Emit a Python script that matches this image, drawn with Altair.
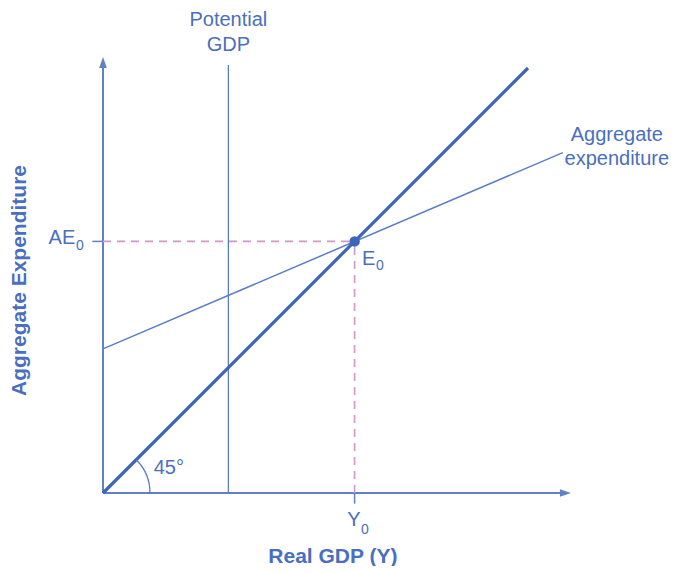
import altair as alt
import pandas as pd

# ---------------- data (economic units; origin = 0,0) ----------------
line45_x = [0.0, 10.0]
line45_y = [0.0, 10.0]
ae_x = [0.0, 10.82]
ae_y = [3.39, 8.01]
potential_x = [2.95, 2.95]
potential_y = [0.0, 10.07]
eq_x, eq_y = 5.92, 5.92
xaxis_end = 11.01
yaxis_end = 10.26
tick_len = 0.25

# ---------------- layout ----------------
U = 42.5          # pixels per unit (same on both axes -> true 45 degrees)
W, H = 568, 485
PAD = {"left": 95, "top": 0, "right": 0, "bottom": 73}

BLUE_TXT = "#4a6fc0"
BLUE_THICK = "#3d65b6"
BLUE_THIN = "#5b7cc6"
AXIS = "#6080c8"
PINK = "#cf98c8"
FONT = "Liberation Sans"

xs = alt.Scale(domain=[0, W / U], nice=False, zero=False)
ys = alt.Scale(domain=[0, H / U], nice=False, zero=False)


def X(f="x"):
    return alt.X(f"{f}:Q", scale=xs, axis=None)


def Y(f="y"):
    return alt.Y(f"{f}:Q", scale=ys, axis=None)


def seg(xa, ya, xb, yb, **kw):
    df = pd.DataFrame({"x": [xa], "y": [ya], "x2": [xb], "y2": [yb]})
    return alt.Chart(df).mark_rule(**kw).encode(
        x=X(), y=Y(), x2="x2:Q", y2="y2:Q"
    )


def txt(rows, **kw):
    df = pd.DataFrame(rows, columns=["x", "y", "t"])
    base = dict(font=FONT, color=BLUE_TXT, fontSize=20, align="center", baseline="middle")
    base.update(kw)
    return alt.Chart(df).mark_text(**base).encode(x=X(), y=Y(), text="t:N")


layers = []

# axes
layers.append(seg(0, 0, xaxis_end - 0.1, 0, color=AXIS, strokeWidth=2))
layers.append(seg(0, 0, 0, yaxis_end - 0.1, color=AXIS, strokeWidth=2))
arrows = pd.DataFrame({"x": [0.0], "y": [yaxis_end]})
layers.append(
    alt.Chart(arrows).mark_point(shape="M0,0L0.7,2L-0.7,2Z", size=121, filled=True,
                                 color=AXIS, opacity=1).encode(x=X(), y=Y())
)
arrows2 = pd.DataFrame({"x": [xaxis_end], "y": [0.0]})
layers.append(
    alt.Chart(arrows2).mark_point(shape="M0,0L-2,-0.7L-2,0.7Z", size=121, filled=True,
                                  color=AXIS, opacity=1).encode(x=X(), y=Y())
)

# ticks at AE0 and Y0
layers.append(seg(-tick_len, eq_y, 0, eq_y, color=AXIS, strokeWidth=1.5))
layers.append(seg(eq_x, -tick_len, eq_x, 0, color=AXIS, strokeWidth=1.5))

# dashed guide lines
layers.append(seg(0, eq_y, eq_x, eq_y, color=PINK, strokeWidth=1.6, strokeDash=[8, 6]))
layers.append(seg(eq_x, 0, eq_x, eq_y, color=PINK, strokeWidth=1.6, strokeDash=[8, 6]))

# potential GDP
layers.append(seg(potential_x[0], potential_y[0], potential_x[1], potential_y[1],
                  color=BLUE_THIN, strokeWidth=1.3))

# aggregate expenditure
layers.append(seg(ae_x[0], ae_y[0], ae_x[1], ae_y[1], color=BLUE_THIN, strokeWidth=1.5))

# 45 degree line
layers.append(seg(line45_x[0], line45_y[0], line45_x[1], line45_y[1],
                  color=BLUE_THICK, strokeWidth=3.2))

# 45 degree arc
arc_df = pd.DataFrame({"x": [0.0], "y": [0.0]})
layers.append(
    alt.Chart(arc_df).mark_point(shape="M1,0A1,1 0 0,0 0.7071,-0.7071", size=8836,
                                 filled=False, stroke=BLUE_THIN, strokeWidth=1.3,
                                 opacity=1).encode(x=X(), y=Y())
)

# equilibrium point
eq_df = pd.DataFrame({"x": [eq_x], "y": [eq_y]})
layers.append(alt.Chart(eq_df).mark_circle(size=110, color=BLUE_THICK, opacity=1)
              .encode(x=X(), y=Y()))

# labels
layers.append(txt([[2.95, 11.13, "Potential"], [2.95, 10.54, "GDP"]]))
layers.append(txt([[12.09, 8.42, "Aggregate"], [12.09, 7.85, "expenditure"]]))
layers.append(txt([[1.55, 0.59, "45°"]]))
layers.append(txt([[-0.967, 6.0, "AE"], [6.25, 5.51, "E"], [5.906, -0.624, "Y"]]))
layers.append(txt([[-0.541, 5.81, "0"], [6.518, 5.33, "0"], [6.165, -0.86, "0"]], fontSize=14))
layers.append(txt([[5.41, -1.50, "Real GDP (Y)"]], fontSize=21, fontWeight="bold"))
layers.append(txt([[-1.953, 5.0, "Aggregate Expenditure"]], fontSize=21,
                  fontWeight="bold", angle=270))

chart = (
    alt.layer(*layers)
    .properties(width=W, height=H, padding=PAD,
                autosize=alt.AutoSizeParams(type="none"))
    .configure_view(stroke=None)
)

chart.save("out.html", embed_options={"renderer": "svg", "actions": False})
